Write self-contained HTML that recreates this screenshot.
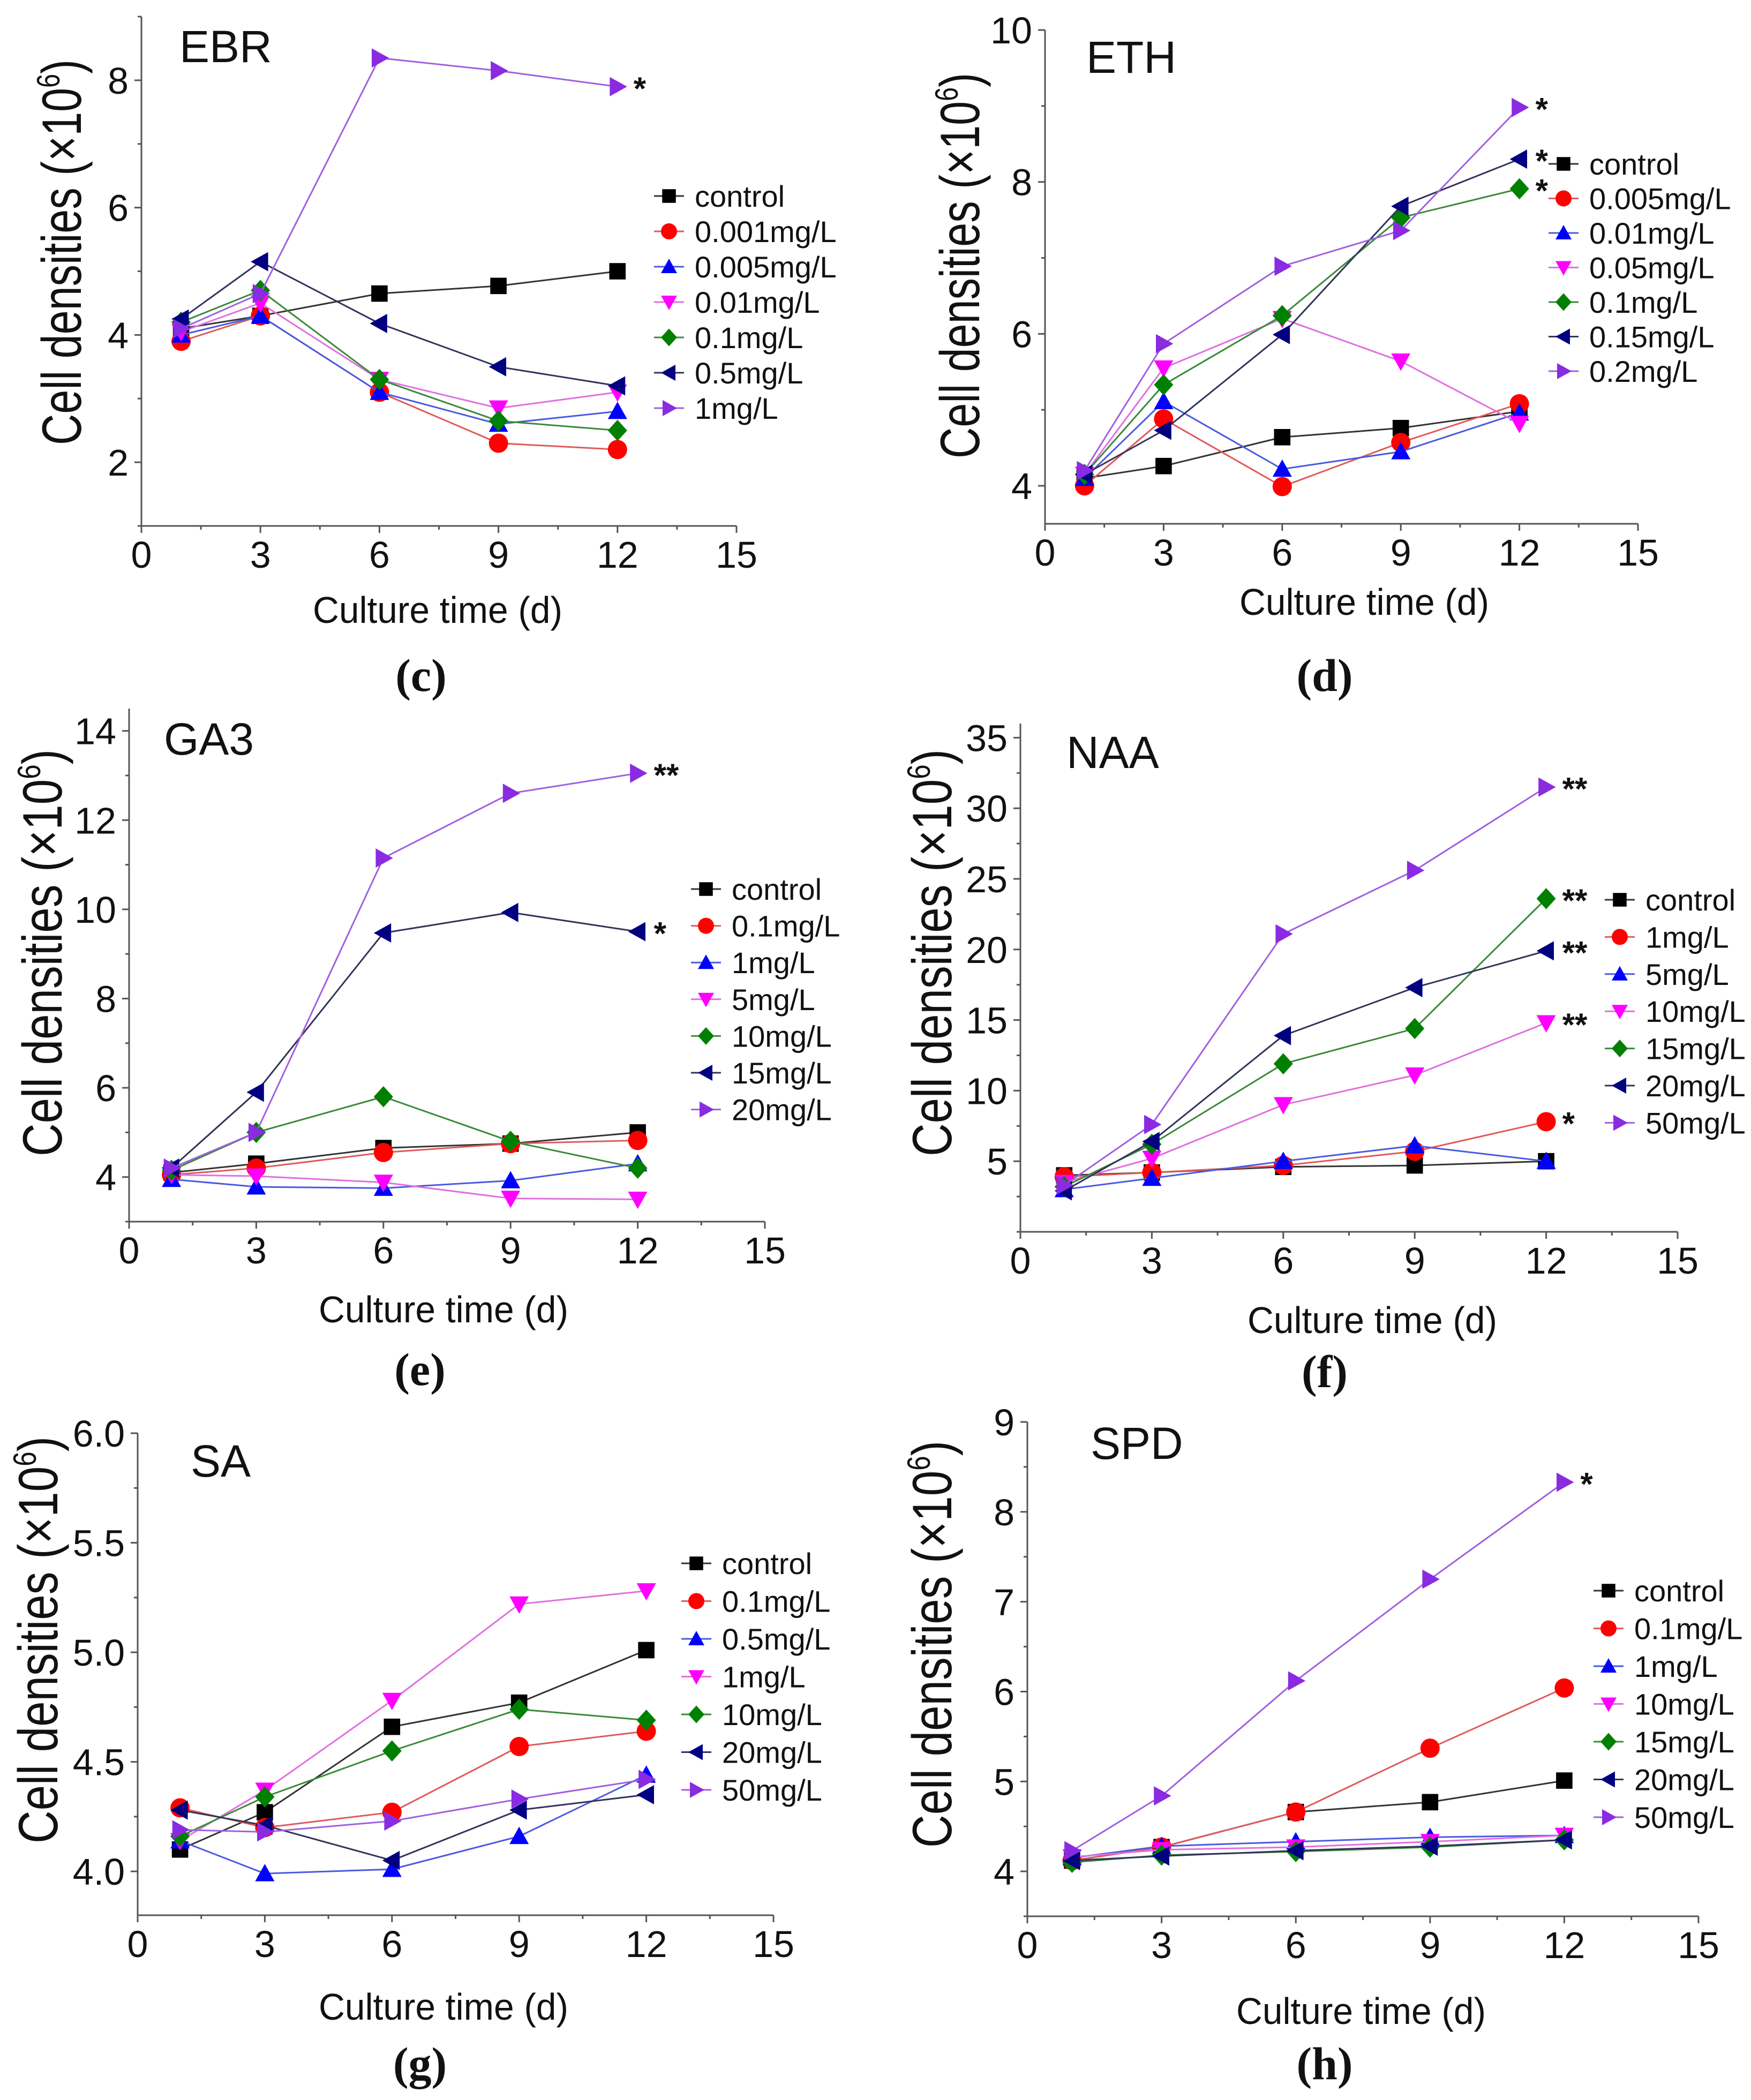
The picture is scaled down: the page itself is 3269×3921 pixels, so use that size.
<!DOCTYPE html>
<html><head><meta charset="utf-8">
<style>
html,body{margin:0;padding:0;background:#fff;}
svg{display:block;}
text{font-family:"Liberation Sans",Arial,sans-serif;fill:#111;}
.cap{font-family:"Liberation Serif","Times New Roman",serif;font-weight:bold;}
</style></head>
<body>
<svg id="fig" xmlns="http://www.w3.org/2000/svg" width="3269" height="3921" viewBox="0 0 3269 3921"></svg>
<script>
// ---- data ----
const days = [1, 3, 6, 9, 12];
const colors = ['#000000', '#ff0000', '#0000ff', '#ff00ff', '#008000', '#000080', '#8a2be2'];
const lineColors = ['#333333', '#e05a5a', '#4a5ae0', '#e070e0', '#3a8a3a', '#33335a', '#a060e0'];
const shapes = ['square', 'circle', 'up', 'down', 'diamond', 'left', 'right'];

const ebrLabels = ['control', '0.001mg/L', '0.005mg/L', '0.01mg/L', '0.1mg/L', '0.5mg/L', '1mg/L'];
const ebrControl = [4.1, 4.3, 4.65, 4.77, 5.0];
const ebr0001 = [3.9, 4.3, 3.1, 2.3, 2.2];
const ebr0005 = [4.0, 4.3, 3.1, 2.6, 2.8];
const ebr001 = [4.05, 4.5, 3.3, 2.85, 3.1];
const ebr01 = [4.2, 4.7, 3.3, 2.65, 2.5];
const ebr05 = [4.25, 5.15, 4.18, 3.5, 3.2];
const ebr1 = [4.1, 4.65, 8.35, 8.15, 7.9];
const ebrStars = ['', '', '', '', '', '', '*'];

const ethLabels = ['control', '0.005mg/L', '0.01mg/L', '0.05mg/L', '0.1mg/L', '0.15mg/L', '0.2mg/L'];
const ethControl = [4.1, 4.26, 4.64, 4.76, 4.98];
const eth0005 = [4.0, 4.88, 3.99, 4.57, 5.08];
const eth001 = [4.1, 5.11, 4.22, 4.45, 4.96];
const eth005 = [4.15, 5.55, 6.2, 5.64, 4.82];
const eth01 = [4.15, 5.33, 6.24, 7.53, 7.91];
const eth015 = [4.15, 4.73, 5.99, 7.68, 8.3];
const eth02 = [4.2, 5.87, 6.89, 7.36, 8.98];
const ethStars = ['', '', '', '', '*', '*', '*'];

const gaLabels = ['control', '0.1mg/L', '1mg/L', '5mg/L', '10mg/L', '15mg/L', '20mg/L'];
const gaControl = [4.1, 4.3, 4.65, 4.75, 5.0];
const ga01 = [4.05, 4.2, 4.55, 4.75, 4.82];
const ga1 = [3.95, 3.78, 3.75, 3.92, 4.3];
const ga5 = [4.05, 4.02, 3.88, 3.52, 3.5];
const ga10 = [4.15, 5.0, 5.8, 4.8, 4.2];
const ga15 = [4.2, 5.9, 9.47, 9.93, 9.5];
const ga20 = [4.2, 5.0, 11.15, 12.6, 13.05];
const gaStars = ['', '', '', '', '', '*', '**'];

const naaLabels = ['control', '1mg/L', '5mg/L', '10mg/L', '15mg/L', '20mg/L', '50mg/L'];
const naaControl = [4.0, 4.2, 4.6, 4.7, 5.0];
const naa1 = [3.9, 4.2, 4.7, 5.7, 7.8];
const naa5 = [3.0, 3.8, 5.0, 6.1, 5.0];
const naa10 = [3.5, 5.2, 9.0, 11.1, 14.8];
const naa15 = [3.2, 6.2, 11.9, 14.4, 23.6];
const naa20 = [2.9, 6.4, 13.9, 17.3, 19.9];
const naa50 = [3.3, 7.6, 21.1, 25.6, 31.5];
const naaStars = ['', '*', '', '**', '**', '**', '**'];

const saLabels = ['control', '0.1mg/L', '0.5mg/L', '1mg/L', '10mg/L', '20mg/L', '50mg/L'];
const saControl = [4.1, 4.27, 4.66, 4.77, 5.01];
const sa01 = [4.29, 4.2, 4.27, 4.57, 4.64];
const sa05 = [4.14, 3.99, 4.01, 4.16, 4.44];
const sa1 = [4.14, 4.37, 4.78, 5.22, 5.28];
const sa10 = [4.16, 4.34, 4.55, 4.74, 4.69];
const sa20 = [4.28, 4.21, 4.05, 4.28, 4.35];
const sa50 = [4.19, 4.18, 4.23, 4.33, 4.42];
const saStars = ['', '', '', '', '', '', ''];

const spdLabels = ['control', '0.1mg/L', '1mg/L', '10mg/L', '15mg/L', '20mg/L', '50mg/L'];
const spdControl = [4.12, 4.27, 4.66, 4.77, 5.01];
const spd01 = [4.12, 4.27, 4.66, 5.37, 6.04];
const spd1 = [4.15, 4.28, 4.33, 4.38, 4.4];
const spd10 = [4.16, 4.24, 4.27, 4.33, 4.4];
const spd15 = [4.1, 4.18, 4.22, 4.27, 4.35];
const spd20 = [4.12, 4.17, 4.23, 4.28, 4.35];
const spd50 = [4.23, 4.84, 6.12, 7.25, 8.33];
const spdStars = ['', '', '', '', '', '', '*'];

const xTicks = [0, 3, 6, 9, 12, 15];
const ebrYTicks = [2, 4, 6, 8];
const ethYTicks = [4, 6, 8, 10];
const gaYTicks = [4, 6, 8, 10, 12, 14];
const naaYTicks = [5, 10, 15, 20, 25, 30, 35];
const saYTicks = [4.0, 4.5, 5.0, 5.5, 6.0];
const spdYTicks = [4, 5, 6, 7, 8, 9];

// ---- layout (pixel geometry, not data) ----
const panels = [
 {id:'ebr', title:'EBR', cap:'(c)', labels:ebrLabels, series:[ebrControl,ebr0001,ebr0005,ebr001,ebr01,ebr05,ebr1], stars:ebrStars, yTicks:ebrYTicks, yMin:1, yMax:9, minor:1, dec:0,
  x0:264, x1:1375, yTop:31, yBot:982, titleX:335, titleY:116, xlabX:817, xlabY:1139, capX:786, capY:1260, ylabX:115, ylabY:471, ylabLen:720, legX:1249, legY:366, legDy:66},
 {id:'eth', title:'ETH', cap:'(d)', labels:ethLabels, series:[ethControl,eth0005,eth001,eth005,eth01,eth015,eth02], stars:ethStars, yTicks:ethYTicks, yMin:3.5, yMax:10, minor:1, dec:0,
  x0:1951, x1:3058, yTop:56, yBot:978, titleX:2028, titleY:136, xlabX:2547, xlabY:1124, capX:2473, capY:1260, ylabX:1792, ylabY:496, ylabLen:720, legX:2919, legY:306, legDy:64.5},
 {id:'ga3', title:'GA3', cap:'(e)', labels:gaLabels, series:[gaControl,ga01,ga1,ga5,ga10,ga15,ga20], stars:gaStars, yTicks:gaYTicks, yMin:3, yMax:14.5, minor:1, dec:0,
  x0:241, x1:1428, yTop:1323, yBot:2281, titleX:306, titleY:1409, xlabX:828, xlabY:2445, capX:784, capY:2556, ylabX:79, ylabY:1779, ylabLen:760, legX:1318, legY:1660, legDy:68.6},
 {id:'naa', title:'NAA', cap:'(f)', labels:naaLabels, series:[naaControl,naa1,naa5,naa10,naa15,naa20,naa50], stars:naaStars, yTicks:naaYTicks, yMin:0, yMax:36, minor:2.5, dec:0,
  x0:1905, x1:3132, yTop:1351, yBot:2300, titleX:1991, titleY:1434, xlabX:2562, xlabY:2465, capX:2473, capY:2560, ylabX:1740, ylabY:1779, ylabLen:760, legX:3024, legY:1680, legDy:69.4},
 {id:'sa', title:'SA', cap:'(g)', labels:saLabels, series:[saControl,sa01,sa05,sa1,sa10,sa20,sa50], stars:saStars, yTicks:saYTicks, yMin:3.8, yMax:6.0, minor:0.25, dec:1,
  x0:257, x1:1444, yTop:2676, yBot:3576, titleX:356, titleY:2757, xlabX:828, xlabY:3747, capX:784, capY:3852, ylabX:71, ylabY:3062, ylabLen:760, legX:1300, legY:2919, legDy:70.5},
 {id:'spd', title:'SPD', cap:'(h)', labels:spdLabels, series:[spdControl,spd01,spd1,spd10,spd15,spd20,spd50], stars:spdStars, yTicks:spdYTicks, yMin:3.5, yMax:9, minor:0.5, dec:0,
  x0:1918, x1:3171, yTop:2655, yBot:3578, titleX:2036, titleY:2724, xlabX:2541, xlabY:3755, capX:2473, capY:3852, ylabX:1740, ylabY:3070, ylabLen:760, legX:3003, legY:2970, legDy:70.5}
];

const NS = 'http://www.w3.org/2000/svg';
const svg = document.getElementById('fig');
function mk(tag, attrs, parent, txt){
  const e = document.createElementNS(NS, tag);
  for (const k in attrs) e.setAttribute(k, attrs[k]);
  if (txt !== undefined) e.textContent = txt;
  parent.appendChild(e);
  return e;
}
function marker(g, shape, cx, cy, r, color){
  let el;
  if (shape === 'square') el = mk('rect', {x:cx-r*0.85, y:cy-r*0.85, width:r*1.7, height:r*1.7, fill:color}, g);
  else if (shape === 'circle') el = mk('circle', {cx:cx, cy:cy, r:r, fill:color}, g);
  else {
    let p;
    if (shape === 'up') p = [[cx,cy-r],[cx+r,cy+r*0.8],[cx-r,cy+r*0.8]];
    if (shape === 'down') p = [[cx,cy+r],[cx+r,cy-r*0.8],[cx-r,cy-r*0.8]];
    if (shape === 'diamond') p = [[cx,cy-r*1.1],[cx+r,cy],[cx,cy+r*1.1],[cx-r,cy]];
    if (shape === 'left') p = [[cx-r,cy],[cx+r*0.8,cy-r],[cx+r*0.8,cy+r]];
    if (shape === 'right') p = [[cx+r,cy],[cx-r*0.8,cy-r],[cx-r*0.8,cy+r]];
    el = mk('polygon', {points:p.map(q=>q.join(',')).join(' '), fill:color}, g);
  }
  return el;
}

panels.forEach(P => {
  const g = mk('g', {}, svg);
  
  
  const xs = v => P.x0 + (v - 0) / 15 * (P.x1 - P.x0);
  const ys = v => P.yBot - (v - P.yMin) / (P.yMax - P.yMin) * (P.yBot - P.yTop);

  const xa = mk('line', {x1:P.x0, y1:P.yBot, x2:P.x1, y2:P.yBot, stroke:'#555', 'stroke-width':3}, g);
  
  
  const ya = mk('line', {x1:P.x0, y1:P.yBot, x2:P.x0, y2:P.yTop, stroke:'#555', 'stroke-width':3}, g);
  
  

  for (let v = 0; v <= 15.001; v += 1.5) {
    const major = Math.abs(v/3 - Math.round(v/3)) < 1e-6;
    mk('line', {x1:xs(v), y1:P.yBot, x2:xs(v), y2:P.yBot + (major?13:7), stroke:'#555', 'stroke-width':3}, g);
  }
  xTicks.forEach(t => {
    const tl = mk('text', {x:xs(t), y:P.yBot + 78, 'font-size':70, 'text-anchor':'middle'}, g, String(t));
    
    
  });
  const first = Math.ceil(P.yMin / P.minor - 1e-6) * P.minor;
  for (let v = first; v <= P.yMax + 1e-6; v += P.minor) {
    const major = P.yTicks.some(t => Math.abs(t - v) < 1e-6);
    mk('line', {x1:P.x0, y1:ys(v), x2:P.x0 - (major?13:7), y2:ys(v), stroke:'#555', 'stroke-width':3}, g);
  }
  P.yTicks.forEach(t => {
    const tl = mk('text', {x:P.x0 - 24, y:ys(t) + 25, 'font-size':70, 'text-anchor':'end'}, g, t.toFixed(P.dec));
    
    
  });

  const xl = mk('text', {x:P.xlabX, y:P.xlabY + 24, 'font-size':70, 'text-anchor':'middle', textLength:466, lengthAdjust:'spacingAndGlyphs'}, g, 'Culture time (d)');
  
  

  const yl = mk('text', {x:0, y:0, 'font-size':104, 'text-anchor':'middle', transform:`translate(${P.ylabX + 36},${P.ylabY}) rotate(-90)`, textLength:P.ylabLen, lengthAdjust:'spacingAndGlyphs'}, g);
  
  
  yl.textContent = 'Cell densities (×10';
  mk('tspan', {'font-size':60, dy:-40}, yl, '6');
  mk('tspan', {'font-size':104, dy:40}, yl, ')');

  const tt = mk('text', {x:P.titleX, y:P.titleY, 'font-size':84}, g, P.title);
  
  

  const cp = mk('text', {x:P.capX, y:P.capY + 30, 'font-size':86, 'text-anchor':'middle', class:'cap'}, g, P.cap);
  
  

  P.series.forEach((vals, i) => {
    const sg = mk('g', {}, g);
    
    
    const pts = vals.map((v, k) => xs(days[k]) + ',' + ys(v)).join(' ');
    mk('polyline', {points:pts, fill:'none', stroke:lineColors[i], 'stroke-width':3}, sg);
    vals.forEach((v, k) => {
      const m = marker(sg, shapes[i], xs(days[k]), ys(v), 18, colors[i]);
      
      
    });
    if (P.stars[i]) {
      const last = vals[vals.length - 1];
      const st = mk('text', {x:xs(days[4]) + 30, y:ys(last) + 24, 'font-size':60, 'font-weight':'bold'}, sg, P.stars[i]);
      
      
    }
  });

  const lg = mk('g', {}, g);
  
  
  P.labels.forEach((lab, i) => {
    const y = P.legY + i * P.legDy;
    const le = mk('g', {}, lg);
    
    
    mk('line', {x1:P.legX - 28, y1:y, x2:P.legX + 28, y2:y, stroke:lineColors[i], 'stroke-width':3}, le);
    marker(le, shapes[i], P.legX, y, 15, colors[i]);
    mk('text', {x:P.legX + 48, y:y + 20, 'font-size':56}, le, lab);
  });
});
</script>
</body></html>
